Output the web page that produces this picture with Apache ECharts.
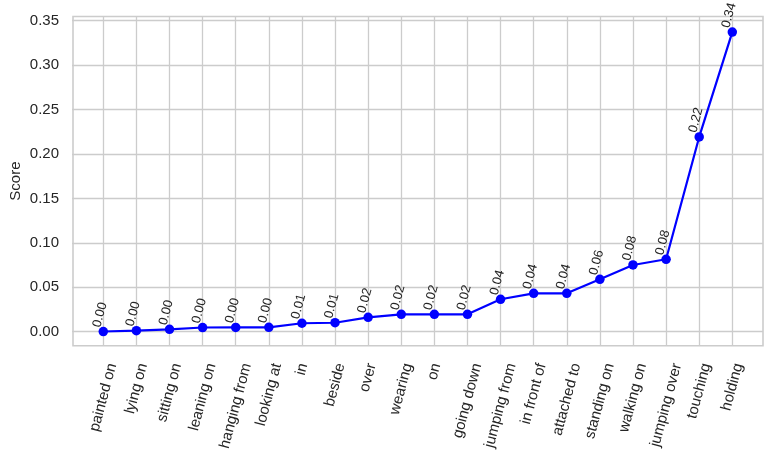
<!DOCTYPE html>
<html>
<head>
<meta charset="utf-8">
<script src="https://cdn.jsdelivr.net/npm/echarts@6/dist/echarts.min.js"></script>
<style>
  html, body { margin: 0; padding: 0; background: #fff; }
  #chart { width: 773px; height: 453px; }
</style>
</head>
<body>
<div id="chart"></div>
<script>
(function () {
  'use strict';

  const categories = ['painted on', 'lying on', 'sitting on', 'leaning on', 'hanging from',
    'looking at', 'in', 'beside', 'over', 'wearing', 'on', 'going down', 'jumping from',
    'in front of', 'attached to', 'standing on', 'walking on', 'jumping over', 'touching', 'holding'];
  const scores = [0.0002, 0.0011, 0.0027, 0.0047, 0.0048, 0.0049, 0.0095, 0.0101, 0.0162, 0.0196,
    0.0196, 0.0196, 0.0365, 0.0432, 0.0432, 0.0590, 0.0751, 0.0815, 0.2192, 0.3372];
  const yTicks = { min: 0, max: 0.35, step: 0.05 };

  const FONT = '"Liberation Sans", Arial, sans-serif';
  const TEXT = '#262626';
  const GRIDC = '#cccccc';

  // rotated tick labels: matplotlib centres the rotated box on the tick,
  // so push every label down by half its rotated length
  const ctx = document.createElement('canvas').getContext('2d');
  ctx.font = '15px "Liberation Sans"';
  const s75 = Math.sin(75 * Math.PI / 180), c75 = Math.cos(75 * Math.PI / 180);
  const rich = {};
  categories.forEach(function (c, i) {
    const L = ctx.measureText(c).width;
    rich['p' + i] = { fontSize: 15, fontFamily: FONT, color: TEXT,
      padding: [L * s75 * c75, L * s75 * s75, 0, 0] };
  });

  const frame = { left: 72, right: 10, top: 16.5, bottom: 107.3 };
  const inner = { left: 103.3, right: 40.7, top: 20.7, bottom: 121.3 };

  const chart = echarts.init(document.getElementById('chart'), null, { renderer: 'canvas' });
  chart.setOption({
    animation: false,
    textStyle: { fontFamily: FONT },
    grid: [
      // frame
      { left: frame.left, right: frame.right, top: frame.top, bottom: frame.bottom,
        show: true, borderColor: GRIDC, borderWidth: 1.6, backgroundColor: 'transparent' },
      // horizontal grid lines + y labels
      { left: frame.left, right: frame.right, top: inner.top, bottom: inner.bottom },
      // vertical grid lines + x labels
      { left: inner.left, right: inner.right, top: frame.top, bottom: frame.bottom },
      // data
      { left: inner.left, right: inner.right, top: inner.top, bottom: inner.bottom },
    ],
    xAxis: [
      { gridIndex: 0, type: 'value', show: false },
      { gridIndex: 1, type: 'value', show: false },
      {
        gridIndex: 2, type: 'category', data: categories, boundaryGap: false,
        axisLine: { show: false }, axisTick: { show: false },
        splitLine: { show: true, lineStyle: { color: GRIDC, width: 1.3 } },
        axisLabel: {
          interval: 0, rotate: 75, margin: 18, align: 'center', verticalAlign: 'middle',
          formatter: function (v, i) { return '{p' + i + '|' + v + '}'; },
          rich: rich,
        },
      },
      { gridIndex: 3, type: 'category', data: categories, boundaryGap: false, show: false },
    ],
    yAxis: [
      {
        gridIndex: 0, type: 'value', min: 0, max: 1,
        axisLine: { show: false }, axisTick: { show: false }, axisLabel: { show: false },
        splitLine: { show: false },
        name: 'Score', nameLocation: 'middle', nameGap: 50,
        nameTextStyle: { fontSize: 15, color: TEXT, fontFamily: FONT },
      },
      {
        gridIndex: 1, type: 'value', min: yTicks.min, max: yTicks.max, interval: yTicks.step,
        axisLine: { show: false }, axisTick: { show: false },
        splitLine: { show: true, lineStyle: { color: GRIDC, width: 1.3 } },
        axisLabel: { fontSize: 15, color: TEXT, margin: 13,
          formatter: function (v) { return v.toFixed(2); } },
      },
      { gridIndex: 2, type: 'value', show: false },
      { gridIndex: 3, type: 'value', min: yTicks.min, max: yTicks.max, show: false },
    ],
    series: [{
      type: 'line',
      xAxisIndex: 3, yAxisIndex: 3,
      data: scores,
      clip: false,
      symbol: 'circle', symbolSize: 9.5,
      lineStyle: { color: '#0000ff', width: 2.2 },
      itemStyle: { color: '#0000ff' },
      label: {
        show: true, position: [1.5, -12], rotate: 75,
        align: 'center', verticalAlign: 'middle',
        fontSize: 13, color: TEXT, fontFamily: FONT,
        formatter: function (p) { return p.value.toFixed(2); },
      },
    }],
  });
})();
</script>
</body>
</html>
